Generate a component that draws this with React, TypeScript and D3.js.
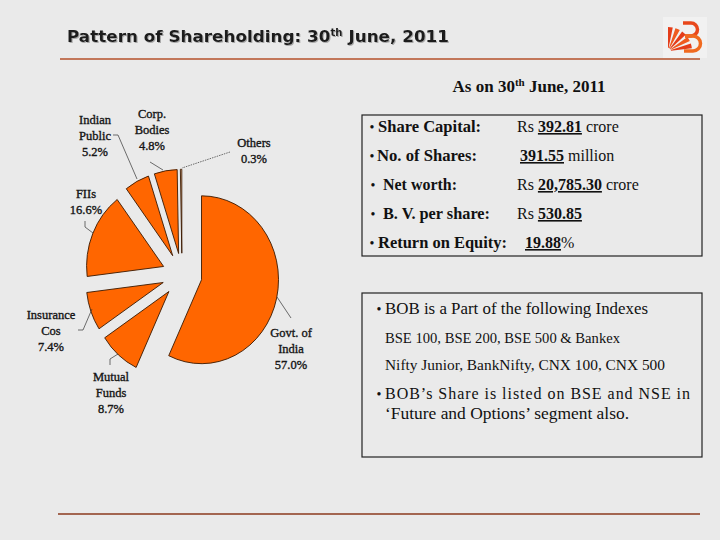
import React from "react";
import * as d3 from "d3";

// ---------- data ----------
const categories = ["Govt. of India", "Mutual Funds", "Insurance Cos", "FIIs", "Indian Public", "Corp. Bodies", "Others"];
const shares = [57.0, 8.7, 7.4, 16.6, 5.2, 4.8, 0.3];
const labelLines = [["Govt. of", "India"], ["Mutual", "Funds"], ["Insurance", "Cos"], ["FIIs"], ["Indian", "Public"], ["Corp.", "Bodies"], ["Others"]];

const statLabels = ["Share Capital:", "No. of Shares:", "Net worth:", "B. V. per share:", "Return on Equity:"];
const statPrefix = ["Rs ", "", "Rs ", "Rs ", ""];
const statValues = ["392.81", "391.55", "20,785.30", "530.85", "19.88"];
const statSuffix = [" crore", " million", " crore", "", "%"];

const indexIntro = "BOB is a Part of the following Indexes";
const indexLines = ["BSE 100, BSE 200, BSE 500 & Bankex", "Nifty Junior, BankNifty, CNX 100, CNX 500"];
const listingLines = ["BOB\u2019s Share is listed on BSE and NSE in", "\u2018Future and Options\u2019 segment also."];

// ---------- layout ----------
const W = 720, H = 540;
const pieCx = 182, pieCy = 275, pieR = 77, pieYScale = 1.09, explode = 20;
const labelAnchors = [[291, 337], [111, 381], [51, 319], [86, 198], [95, 124], [152, 118], [254, 147]];
const leaderPaths = [
  "M277,297L291,318",
  "M110,365L110,359L118,354",
  "M78,330L83,330L92,309",
  "M85,221L85,227L93,233",
  "M113,135L118,135L137,179",
  "M150,162L163,170",
  "M230,152L182,168",
];
const statLabelX = [378, 377, 383, 383, 378];
const statLabelW = [103, 100, 74, 107, 129];
const statBulletX = [372, 372, 373, 373, 372];
const statValueX = [517, 520, 517, 517, 525];

const serif = "'Liberation Serif', 'Times New Roman', serif";

export default function App() {
  const pie = d3.pie<number>().sort(null).value((d) => d)(shares);
  const arc = d3.arc<d3.PieArcDatum<number>>().innerRadius(0).outerRadius(pieR);
  const fmt = d3.format(".1f");

  // logo fan
  const fanAngles = d3.range(5).map((i) => i * (Math.PI / 2) / 5);
  const fanArc = d3.arc<any>().innerRadius(3).outerRadius(24);

  return (
    <div style={{ position: "absolute", left: 0, top: 0 }}>
      <svg width={W} height={H} viewBox={`0 0 ${W} ${H}`} style={{ display: "block" }}>
        <defs>
          <filter id="sh" x="-5%" y="-30%" width="110%" height="160%">
            <feDropShadow dx="1" dy="1" stdDeviation="0.6" floodColor="#999" floodOpacity="0.8" />
          </filter>
        </defs>
        <rect x={0} y={0} width={W} height={H} fill="#eaeaea" />

        {/* title */}
        <text x={67} y={42} fontFamily="'DejaVu Sans', Verdana, sans-serif" fontWeight="bold" fontSize={16.5}
          fill="#1a1a1a" filter="url(#sh)" textLength={382} lengthAdjust="spacingAndGlyphs">
          Pattern of Shareholding: 30<tspan fontSize={10} dy={-6}>th</tspan><tspan dy={6}> June, 2011</tspan>
        </text>
        <line x1={60} x2={700} y1={59} y2={59} stroke="#b5502a" strokeWidth={1.4} />
        <line x1={58} x2={700} y1={514} y2={514} stroke="#8b3a1e" strokeWidth={1.4} />

        {/* logo */}
        <g>
          <rect x={663} y={17} width={44} height={41} fill="#f1f1f1" />
          <g transform="translate(668,51)">
            {fanAngles.map((a, i) => (
              <path key={i} d={fanArc({ startAngle: a, endAngle: a + 0.2 }) as string} fill={i % 2 ? "#ef5a1e" : "#e43d1a"} />
            ))}
          </g>
          <path d="M683,23 h8 a6.5,6.5 0 0 1 0,13 h-6" fill="none" stroke="#e8471b" strokeWidth={3.5} />
          <path d="M685,36 h8 a7.5,7.5 0 0 1 0,15 h-9" fill="none" stroke="#f06a1f" strokeWidth={3.5} />
        </g>

        {/* pie */}
        <g transform={`translate(${pieCx},${pieCy}) scale(1,${pieYScale})`}>
          {pie.map((s, i) => {
            const m = (s.startAngle + s.endAngle) / 2;
            return (
              <path key={categories[i]}
                d={arc(s) as string}
                transform={`translate(${explode * Math.sin(m)},${-explode * Math.cos(m)})`}
                fill={i === shares.length - 1 ? "#ffd2a8" : "#ff6600"}
                stroke="#3a1800" strokeWidth={0.9} vectorEffect="non-scaling-stroke" strokeLinejoin="round" />
            );
          })}
        </g>

        {/* leader lines */}
        {leaderPaths.map((p, i) => (
          <path key={i} d={p} fill="none" stroke="#333" strokeWidth={0.7}
            strokeDasharray={i === 6 ? "1.5,1" : undefined} />
        ))}

        {/* pie labels */}
        {categories.map((c, i) => {
          const [x, y] = labelAnchors[i];
          const lines = [...labelLines[i], fmt(shares[i]) + "%"];
          return (
            <text key={c} x={x} y={y} textAnchor="middle" fontFamily={serif} fontSize={12.5}
              fill="#151515" stroke="#151515" strokeWidth={0.35}>
              {lines.map((l, j) => (
                <tspan key={j} x={x} dy={j === 0 ? 0 : 16}>{l}</tspan>
              ))}
            </text>
          );
        })}

        {/* right heading */}
        <text x={529} y={92} textAnchor="middle" fontFamily={serif} fontWeight="bold" fontSize={17} fill="#111">
          As on 30<tspan fontSize={11} dy={-6}>th</tspan><tspan dy={6}> June, 2011</tspan>
        </text>

        {/* box 1 */}
        <rect x={362} y={115} width={340} height={141} fill="none" stroke="#222" strokeWidth={1.2} />
        {statLabels.map((l, i) => {
          const y = 132 + i * 29;
          return (
            <g key={l}>
              <text x={statBulletX[i]} y={y} textAnchor="middle" fontFamily={serif} fontSize={14} fill="#111">•</text>
              <text x={statLabelX[i]} y={y} fontFamily={serif} fontWeight="bold" fontSize={16} fill="#111"
                textLength={statLabelW[i]} lengthAdjust="spacingAndGlyphs">{l}</text>
              <text x={statValueX[i]} y={y} fontFamily={serif} fontSize={16} fill="#111">
                {statPrefix[i]}
                <tspan fontWeight="bold" textDecoration="underline" style={{ textDecoration: "underline" }}>{statValues[i]}</tspan>
                {statSuffix[i]}
              </text>
            </g>
          );
        })}

        {/* box 2 */}
        <rect x={362} y={293} width={340} height={164} fill="none" stroke="#222" strokeWidth={1.2} />
        <text x={379} y={314} textAnchor="middle" fontFamily={serif} fontSize={14} fill="#111">•</text>
        <text x={385} y={314} fontFamily={serif} fontSize={16} fill="#111" textLength={263} lengthAdjust="spacingAndGlyphs">{indexIntro}</text>
        <text x={385} y={343} fontFamily={serif} fontSize={14.5} fill="#111" textLength={235} lengthAdjust="spacingAndGlyphs">{indexLines[0]}</text>
        <text x={385} y={370} fontFamily={serif} fontSize={14.5} fill="#111" textLength={280} lengthAdjust="spacingAndGlyphs">{indexLines[1]}</text>
        <text x={379} y={399} textAnchor="middle" fontFamily={serif} fontSize={14} fill="#111">•</text>
        <text x={385} y={399} fontFamily={serif} fontSize={16} fill="#111" textLength={305} lengthAdjust="spacing">{listingLines[0]}</text>
        <text x={385} y={419} fontFamily={serif} fontSize={16} fill="#111" textLength={244} lengthAdjust="spacingAndGlyphs">{listingLines[1]}</text>
      </svg>
    </div>
  );
}
